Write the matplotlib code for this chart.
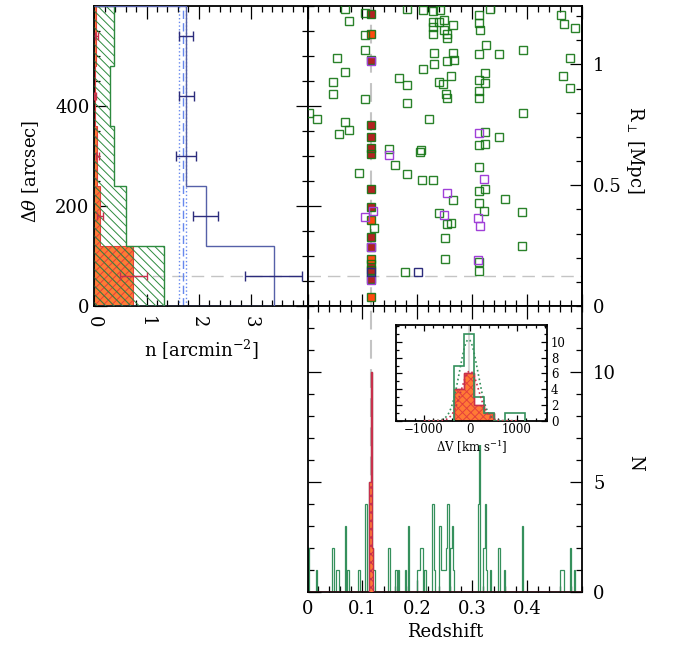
import numpy as np
import matplotlib
matplotlib.use('Agg')
import matplotlib.pyplot as plt
from matplotlib.ticker import MultipleLocator, FuncFormatter
from matplotlib.patches import Rectangle

plt.rcParams['font.family'] = ['DejaVu Serif']
plt.rcParams['mathtext.fontset'] = 'dejavuserif'
plt.rcParams['font.size'] = 13
plt.rcParams['hatch.linewidth'] = 0.7
plt.rcParams['axes.linewidth'] = 1.3

# ---------------- left panel: surface density vs distance ----------------
th_edges = [0, 120, 240, 360, 480, 600]
th_mid = [60, 180, 300, 420, 540]
n_all = [1.34, 0.60, 0.38, 0.30, 0.38]          # spectroscopic, all z (green)
n_memb = [0.75, 0.11, 0.055, 0.02, 0.04]        # members (red)
n_memb_err = [0.26, 0.06, 0.03, 0.02, 0.03]
n_phot = [3.43, 2.13, 1.76, 1.76, 1.76]         # photometric (blue)
n_phot_err = [0.54, 0.24, 0.19, 0.14, 0.13]
n_bkg = 1.69
n_bkg_err = 0.07

z_cl = 0.1157
th_cut = 60
mpc_per_arcsec = 1.24 / 600.

# ---------------- top right: redshift vs distance ----------------
z_all = [0.068, 0.075, 0.105, 0.105, 0.105, 0.054, 0.068, 0.046, 0.046, 0.104,
         0.002, 0.017, 0.068, 0.075, 0.057, 0.182, 0.210, 0.228, 0.242, 0.228,
         0.228, 0.228, 0.240, 0.249, 0.249, 0.255, 0.255, 0.265, 0.231, 0.265,
         0.255, 0.266, 0.230, 0.211, 0.167, 0.182, 0.240, 0.246, 0.262, 0.253,
         0.255, 0.182, 0.221, 0.312, 0.333, 0.313, 0.315, 0.326, 0.313, 0.348,
         0.392, 0.324, 0.312, 0.324, 0.313, 0.313, 0.392, 0.324, 0.348, 0.313,
         0.324, 0.461, 0.467, 0.487, 0.479, 0.465, 0.479, 0.148, 0.207, 0.205,
         0.094, 0.160, 0.181, 0.208, 0.228, 0.313, 0.313, 0.324, 0.265, 0.313,
         0.322, 0.360, 0.391, 0.240, 0.255, 0.262, 0.251, 0.251, 0.312, 0.313,
         0.391, 0.178, 0.122]
th_all = [595, 571, 587, 542, 513, 497, 468, 449, 425, 415,
          387, 374, 368, 353, 345, 595, 592, 591, 592, 569,
          559, 545, 569, 572, 552, 545, 537, 562, 507, 507,
          491, 492, 484, 475, 457, 442, 449, 445, 460, 425,
          417, 407, 375, 582, 595, 567, 552, 522, 504, 505,
          512, 467, 452, 447, 431, 417, 387, 348, 339, 322,
          325, 582, 564, 557, 497, 461, 437, 315, 312, 309,
          267, 283, 264, 253, 252, 279, 231, 235, 212, 207,
          190, 215, 188, 187, 165, 167, 137, 95, 89, 70,
          121, 69, 157]
z_pur = [0.116, 0.312, 0.148, 0.322, 0.255, 0.248, 0.311, 0.315, 0.105, 0.120, 0.116, 0.116, 0.311]
th_pur = [490, 347, 302, 254, 227, 182, 177, 160, 179, 190, 119, 53, 93]
z_navy = [0.201, 0.116]
th_navy = [69, 69]
z_memb = [0.1160, 0.1158, 0.1155, 0.1157, 0.1156, 0.1158, 0.1157, 0.1159, 0.1155, 0.1156, 0.1158, 0.1154, 0.1157]
th_memb = [585, 492, 363, 339, 317, 304, 235, 199, 139, 119, 85, 72, 55]
z_memb2 = [0.1158, 0.1155, 0.1154, 0.1153]
th_memb2 = [544, 173, 95, 19]

# ---------------- bottom: redshift histogram ----------------
zh_bin = 0.0025
zh_z = [0.00125, 0.01625, 0.04625, 0.05375, 0.05625, 0.06875, 0.07375, 0.09375, 0.10625, 0.11375,
        0.11625, 0.11875, 0.12125, 0.14875, 0.16125, 0.16625, 0.17875, 0.18375, 0.20125, 0.20375,
        0.20625, 0.20875, 0.21375, 0.22875, 0.23125, 0.24125, 0.24375, 0.24625, 0.24875, 0.25125,
        0.25375, 0.25625, 0.26125, 0.26375, 0.26625, 0.31125, 0.31375, 0.32125, 0.32375, 0.32625,
        0.33375, 0.34875, 0.35875, 0.39125, 0.46125, 0.46375, 0.46625, 0.47875, 0.48625]
zh_n = [2, 1, 2, 1, 1, 3, 1, 1, 4, 5,
        10, 2, 1, 2, 1, 1, 1, 3, 1, 1,
        2, 2, 1, 4, 1, 3, 1, 1, 1, 1,
        2, 4, 2, 3, 1, 4, 8, 2, 4, 1,
        1, 2, 1, 3, 1, 1, 1, 2, 1]
zm_z = [0.11375, 0.11625, 0.11875]
zm_n = [5, 10, 2]

# ---------------- inset: velocity histogram ----------------
dv_edges = [-355, -137, 81, 299, 517, 735, 953, 1171]
dv_all = [7, 11, 3, 1, 0, 1, 1]
dv_memb = [4, 6, 2, 1, 0, 0, 0]
fit_all = (10.3, -39, 196)      # amplitude, mean, sigma
fit_memb = (6.3, -10, 190)

GREEN_SQ = '#137513'
GREEN_H = '#2d8a3e'
HIST_G = '#35905c'
RED = '#c8304c'
HATCH_R = '#e4403c'
ORANGE = '#ff7a35'
FIREB = '#b32222'
ORRED = '#ff4a10'
PURPLE = '#a040d8'
NAVY = '#2c2c7c'
BSTEP = '#5560a8'
LBLUE = '#6688ee'
GRAY = '#c4c4c4'

fig = plt.figure(figsize=(6.76, 6.46), dpi=100)
W, H = 676., 646.
x0, x1, x2 = 94.3, 307.5, 582.0
yt, ym, yb = 6.5, 306.0, 591.7
ax1 = fig.add_axes([x0 / W, 1 - ym / H, (x1 - x0) / W, (ym - yt) / H])
ax2 = fig.add_axes([x1 / W, 1 - ym / H, (x2 - x1) / W, (ym - yt) / H])
ax3 = fig.add_axes([x1 / W, 1 - yb / H, (x2 - x1) / W, (yb - ym) / H])
axin = fig.add_axes([396 / W, 1 - 420.7 / H, 150.7 / W, 95.4 / H])

def style(ax, maj=9, mnr=4.5):
    ax.tick_params(which='both', direction='in', top=True, right=True, width=0.9)
    ax.tick_params(which='major', length=maj)
    ax.tick_params(which='minor', length=mnr)

# ---- left panel
ax1.axhline(th_cut, color=GRAY, lw=1, dashes=(9, 5), zorder=0)
ax1.stairs(n_memb, th_edges, orientation='horizontal', fill=True, facecolor=ORANGE,
           edgecolor=HATCH_R, hatch='xxxx', lw=0.8, zorder=2)
ax1.stairs(n_all, th_edges, orientation='horizontal', fill=True, facecolor='none',
           edgecolor=GREEN_H, hatch='\\\\\\\\', lw=1.0, zorder=3)
ax1.stairs(n_phot, th_edges, orientation='horizontal', color=BSTEP, lw=1.0, zorder=3)
ax1.axvline(n_bkg, color=LBLUE, lw=1, dashes=(6, 3), zorder=2)
ax1.axvline(n_bkg - n_bkg_err, color=LBLUE, lw=1, ls=':', zorder=2)
ax1.axvline(n_bkg + n_bkg_err, color=LBLUE, lw=1, ls=':', zorder=2)
ax1.errorbar(n_phot, th_mid, xerr=n_phot_err, fmt='none', ecolor=NAVY, elinewidth=1,
             capsize=3.5, zorder=4)
ax1.errorbar(n_memb, th_mid, xerr=n_memb_err, fmt='none', ecolor=RED, elinewidth=1,
             capsize=3, zorder=4)
ax1.set_xlim(0, 4.08)
ax1.set_ylim(0, 600)
ax1.set_xticks([0, 1, 2, 3])
ax1.xaxis.set_minor_locator(MultipleLocator(0.2))
ax1.set_yticks([0, 200, 400])
ax1.yaxis.set_minor_locator(MultipleLocator(50))
style(ax1)
ax1.tick_params(axis='x', labelrotation=-90, pad=7)
ax1.set_ylabel(r'$\Delta\theta$ [arcsec]', va='center')
ax1.yaxis.set_label_coords(-0.30, 0.45)
ax1.set_xlabel(r'n [arcmin$^{-2}$]', va='center')
ax1.xaxis.set_label_coords(0.5, -0.147)

# ---- top right panel
ax2.axhline(th_cut, color=GRAY, lw=1, dashes=(9, 5), zorder=0)
ax2.axvline(z_cl, color=GRAY, lw=1.5, dashes=(9, 5), zorder=0)
ax2.plot(z_memb, th_memb, 's', ms=5.6, mfc=FIREB, mec='none', zorder=2)
ax2.plot(z_memb2, th_memb2, 's', ms=5.6, mfc=ORRED, mec='none', zorder=2)
ax2.plot(z_all + z_memb + z_memb2, th_all + th_memb + th_memb2, 's', ms=5.6, mfc='none',
         mec=GREEN_SQ, mew=1.0, alpha=0.9, zorder=3)
ax2.plot(z_pur, th_pur, 's', ms=5.6, mfc='none', mec=PURPLE, mew=1.0, zorder=4)
ax2.plot(z_navy, th_navy, 's', ms=5.6, mfc='none', mec=NAVY, mew=1.0, zorder=4)
ax2.set_xlim(0, 0.5)
ax2.set_ylim(0, 600)
ax2.xaxis.set_major_locator(MultipleLocator(0.1))
ax2.xaxis.set_minor_locator(MultipleLocator(0.02))
ax2.set_yticks([0, 200, 400])
ax2.yaxis.set_minor_locator(MultipleLocator(50))
style(ax2)
ax2.tick_params(which='both', right=False, labelbottom=False, labelleft=False)
sec = ax2.secondary_yaxis('right', functions=(lambda t: np.asarray(t) * mpc_per_arcsec,
                                              lambda r: np.asarray(r) / mpc_per_arcsec))
sec.set_yticks([0, 0.5, 1])
sec.yaxis.set_minor_locator(MultipleLocator(0.1))
sec.yaxis.set_major_formatter(FuncFormatter(lambda v, p: '{:g}'.format(v)))
sec.tick_params(which='both', direction='in', width=0.9, pad=8)
sec.tick_params(which='major', length=9)
sec.tick_params(which='minor', length=4.5)
fig.text(635 / W, 1 - 150 / H, r'R$_\perp$ [Mpc]', rotation=-90, ha='center', va='center')

# ---- bottom panel
edges = np.arange(0, 0.5 + zh_bin / 2, zh_bin)
cnt_all, _ = np.histogram(zh_z, bins=edges, weights=zh_n)
cnt_memb, _ = np.histogram(zm_z, bins=edges, weights=zm_n)
ax3.axvline(z_cl, color=GRAY, lw=1.5, dashes=(9, 5), zorder=0)
ax3.stairs(cnt_all, edges, color=HIST_G, lw=0.9, zorder=2)
ax3.stairs(cnt_memb, edges, fill=True, facecolor=ORANGE, edgecolor=RED, hatch='xxxx',
           lw=1.0, zorder=3)
ax3.set_xlim(0, 0.5)
ax3.set_ylim(0, 13)
ax3.set_xticks([0, 0.1, 0.2, 0.3, 0.4])
ax3.xaxis.set_minor_locator(MultipleLocator(0.02))
ax3.xaxis.set_major_formatter(FuncFormatter(lambda v, p: '{:g}'.format(v)))
ax3.set_yticks([0, 5, 10])
ax3.yaxis.set_minor_locator(MultipleLocator(1))
style(ax3)
ax3.tick_params(axis='x', pad=6)
ax3.tick_params(axis='y', labelleft=False, labelright=True, pad=8)
ax3.set_xlabel('Redshift', va='center')
ax3.xaxis.set_label_coords(0.5, -0.141)
fig.text(635 / W, 1 - 463 / H, 'N', rotation=-90, ha='center', va='center')

# ---- inset
axin.add_patch(Rectangle((-0.12, -0.255), 1.24, 0.255, transform=axin.transAxes,
                         facecolor='white', edgecolor='none', clip_on=False, zorder=-5))
axin.axvline(-40, color='#d8d8d8', lw=1.5, zorder=0)
axin.stairs(dv_memb, dv_edges, fill=True, facecolor=ORANGE, edgecolor=HATCH_R, hatch='xxxx',
            lw=1.0, zorder=2)
axin.stairs(dv_memb, dv_edges, color=RED, lw=1.0, zorder=2)
axin.stairs(dv_all, dv_edges, color=HIST_G, lw=1.2, zorder=3)
vv = np.linspace(-1000, 1000, 300)
for (a, m, s), c in [(fit_all, HIST_G), (fit_memb, RED)]:
    axin.plot(vv, a * np.exp(-0.5 * ((vv - m) / s) ** 2), ls=':', color=c, lw=1.2, zorder=4)
axin.set_xlim(-1600, 1640)
axin.set_ylim(0, 12.1)
axin.set_xticks([-1000, 0, 1000])
axin.xaxis.set_minor_locator(MultipleLocator(200))
axin.set_yticks([0, 2, 4, 6, 8, 10])
axin.yaxis.set_minor_locator(MultipleLocator(1))
style(axin, maj=4.5, mnr=2.2)
axin.tick_params(labelsize=8.5, pad=2)
axin.tick_params(axis='y', labelleft=False, labelright=True, pad=3)
axin.set_xlabel(r'$\Delta$V [km s$^{-1}$]', fontsize=8.5, labelpad=1)

fig.savefig('out.png', dpi=100)
